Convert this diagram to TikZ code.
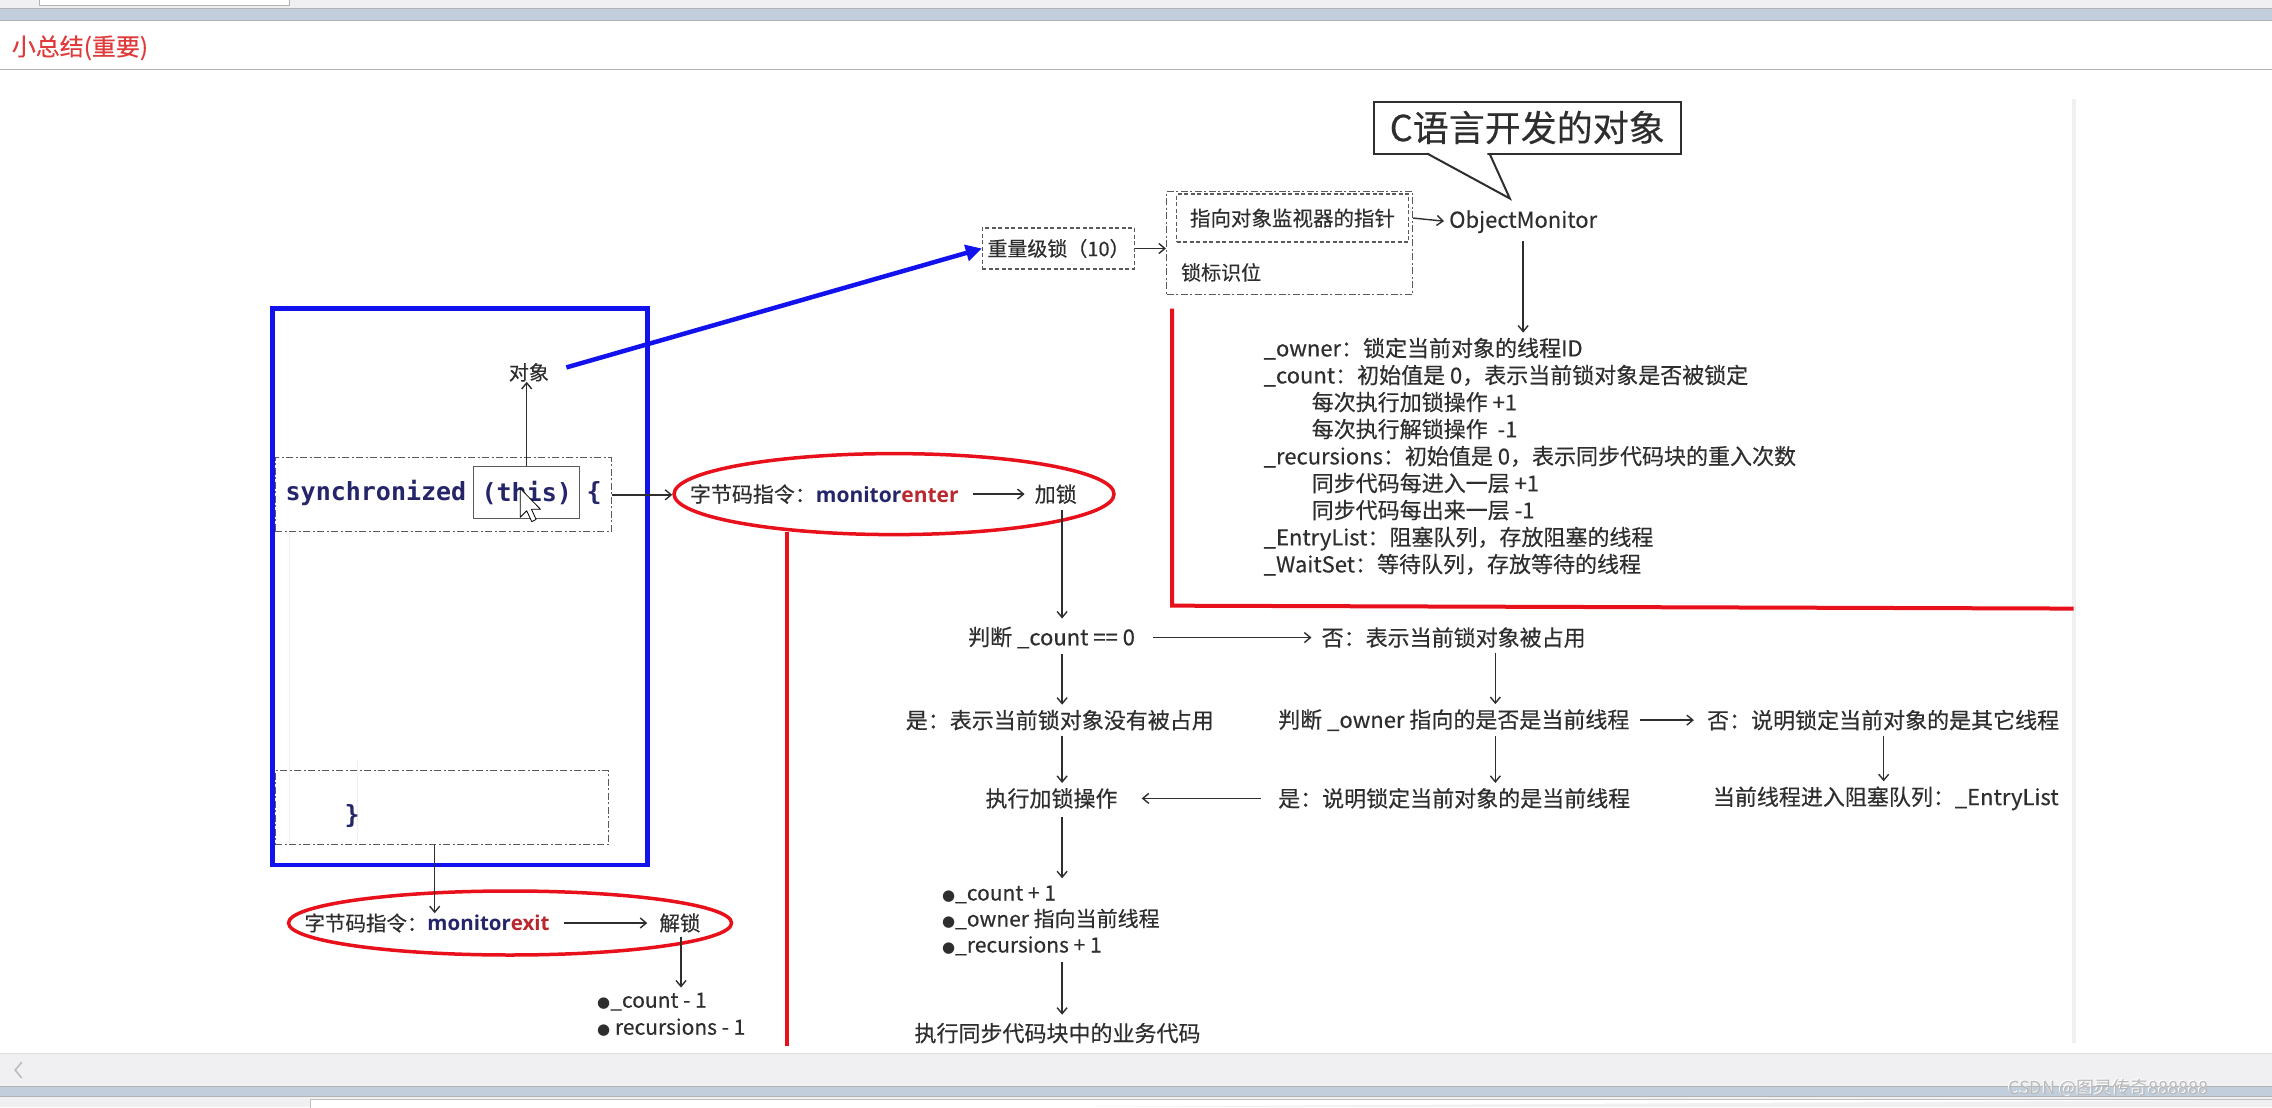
\documentclass[tikz,border=0pt]{standalone}
\usepackage{fontspec}
\setmainfont{Noto Sans CJK SC}[FakeBold=0.35]
\newfontfamily\monof{DejaVu Sans Mono}
\newfontfamily\dejavu{DejaVu Sans}
\newfontfamily\bsans{Open Sans}
\newfontfamily\wmfont{Noto Sans CJK SC}
\usetikzlibrary{arrows.meta,shapes.geometric}
\definecolor{txt}{HTML}{2E2E2E}
\definecolor{redl}{HTML}{E8101A}
\definecolor{bluel}{HTML}{1212EE}
\definecolor{navy}{HTML}{25256A}
\definecolor{dred}{HTML}{B8282E}
\definecolor{uigray}{HTML}{F0F0F2}
\definecolor{uiblue}{HTML}{C2CEDC}
\definecolor{dashg}{HTML}{5A5A5A}
\definecolor{titlered}{HTML}{E03A3A}
\begin{document}
\begin{tikzpicture}[x=1.449pt,y=-1.449pt,
  lbl/.style={inner sep=0pt, text=txt, font=\fontsize{22}{27}\selectfont},
  arr/.style={draw=txt, line width=1.4pt, -{Straight Barb[length=6pt,width=10pt]}},
  dbox/.style={draw=dashg, line width=1.3pt, dash pattern=on 4pt off 2.5pt, inner sep=0pt, text=txt},
  ddbox/.style={draw=dashg, line width=1.3pt, dash pattern=on 7pt off 2.5pt on 2pt off 2.5pt, inner sep=0pt},
  codetxt/.style={inner sep=0pt, text=navy, font=\monof\bfseries\fontsize{25}{25}\selectfont},
  redline/.style={draw=redl, line width=4pt},
  redell/.style={ellipse, draw=redl, line width=3.5pt, inner sep=0pt}]
\useasboundingbox (0,0) rectangle (1568,764);
\fill[white] (0,0) rectangle (1568,764);
% ---- window chrome ----
\fill[uigray] (0,0) rectangle (1568,6);
\draw[gray!60, fill=white, line width=0.8pt] (27,-3) rectangle (200,4);
\fill[uiblue] (0,6) rectangle (1568,14);
\draw[gray!60, line width=1pt] (0,6) -- (1568,6) (0,14) -- (1568,14);
\node[inner sep=0pt, anchor=west, text=titlered, font=\fontsize{24}{24}\selectfont] (title) at (8,33) {小总结(重要)};
\draw[gray!60, line width=1.6pt] (0,48) -- (1568,48);
\draw[gray!12, line width=4pt] (1431,68) -- (1431,720);
\fill[uigray] (0,727) rectangle (1568,750);
\draw[gray!25, line width=0.8pt] (0,727) -- (1568,727);
\draw[gray!55, line width=1.5pt] (15,733) -- (10.5,738.5) -- (15,744);
\fill[uiblue] (0,750) rectangle (1568,757);
\draw[gray!60, line width=1pt] (0,750) -- (1568,750) (0,757) -- (1568,757);
\fill[uigray] (0,757) rectangle (1568,764);
\draw[gray!50, fill=white, line width=0.8pt] (214,767) -- (214,759) -- (1570,759);
\node[inner sep=0pt, text=white, font=\wmfont\fontsize{18}{18}\selectfont] (wmshadow) at (1454.4,750.4) {CSDN @图灵传奇888888};
\node[inner sep=0pt, text=gray!55, font=\wmfont\fontsize{18}{18}\selectfont] (wm) at (1455,751) {CSDN @图灵传奇888888};
% ---- callout ----
\node[draw=txt, line width=2pt, minimum width=307pt, minimum height=52pt, inner sep=0pt, text=txt, font=\fontsize{36}{36}\selectfont] (callout) at (1054,88) {C语言开发的对象};
\coordinate (tailL) at (985,106);
\coordinate (tailR) at (1028,106);
\coordinate (tip) at (1042,137);
\fill[white] (986.5,108) -- (tip) -- (1026.5,108) -- (1026.5,104) -- (986.5,104) -- cycle;
\draw[txt, line width=2pt, line join=miter] (tailL) -- (tip) -- (tailR);
% ---- header boxes ----
\node[dbox, minimum width=152pt, minimum height=41pt, font=\fontsize{20}{20}\selectfont] (heavy) at (730.5,171.5) {重量级锁（10）};
\node[ddbox, minimum width=246pt, minimum height=103pt] (outer) at (890,167.5) {};
\node[dbox, minimum width=232pt, minimum height=48pt, font=\fontsize{20.5}{20}\selectfont] (ptr) at (892,150.5) {指向对象监视器的指针};
\node[lbl, anchor=west, font=\fontsize{20}{20}\selectfont] (flag) at (815,188) {锁标识位};
\node[lbl, anchor=west] (om) at (1000,153) {ObjectMonitor};
\draw[arr] (heavy.east) -- (heavy.east -| outer.west);
\draw[arr, shorten >=5pt] (ptr.east -| outer.east) -- (om.west);
\node[lbl, anchor=north west, align=left] (fields) at (872,233) {%
\_owner：锁定当前对象的线程ID\\
\_count：初始值是 0，表示当前锁对象是否被锁定\\
\hspace*{48pt}每次执行加锁操作 +1\\
\hspace*{48pt}每次执行解锁操作\ \ -1\\
\_recursions：初始值是 0，表示同步代码块的重入次数\\
\hspace*{48pt}同步代码每进入一层 +1\\
\hspace*{48pt}同步代码每出来一层 -1\\
\_EntryList：阻塞队列，存放阻塞的线程\\
\_WaitSet：等待队列，存放等待的线程};
\draw[arr, shorten <=8pt, shorten >=5pt] (om.south) -- (om.south |- fields.north);
\draw[redline] (809,213) -- (809,418) -- (1431,420);
% ---- code block ----
\draw[bluel, line width=4.5pt] (188,213) rectangle (447,597);
\draw[gray!12, line width=1pt] (200,368) -- (200,582);
\draw[gray!12, line width=1pt] (247,525) -- (247,582);
\node[lbl, font=\fontsize{20}{20}\selectfont] (obj) at (365,257) {对象};
\node[ddbox, minimum width=336pt, minimum height=74pt] (syncbox) at (306,341.5) {};
\node[codetxt, anchor=west] (syn) at (197,340) {synchronized};
\node[codetxt, draw=dashg, line width=1.5pt, solid, minimum width=106pt, minimum height=52pt] (this) at (363.5,340) {(this)};
\node[codetxt] (brace) at (410,340) {\{};
\draw[arr] (this.north) -- (this.north |- obj.south);
\draw[black, fill=white, line width=0.8pt, line join=round] (359,337) -- (359,357) -- (363.5,352.5) -- (367,360) -- (370,358.5) -- (366.8,351.5) -- (373,351.5) -- cycle;
\node[ddbox, minimum width=333pt, minimum height=74pt] (endbox) at (305,557.5) {};
\node[codetxt] (cbrace) at (243,563) {\}};
\draw[bluel, line width=4.5pt, -{Triangle[length=16pt,width=16pt]}, shorten <=18pt] (obj.east) -- (heavy.west);
% ---- monitorenter ----
\node[redell, minimum width=440pt, minimum height=81pt] (ell1) at (617,341) {};
\node[lbl, anchor=west, font=\fontsize{21}{21}\selectfont] (e1a) at (476,341) {字节码指令：{\bsans\bfseries\color{navy}monitor}{\bsans\bfseries\color{dred}enter}};
\node[lbl, anchor=west, font=\fontsize{21}{21}\selectfont] (e1b) at (714,341) {加锁};
\draw[arr, shorten <=14pt, shorten >=10pt] (e1a.east) -- (e1b.west);
\draw[arr] (syncbox.east) -- (syncbox.east -| ell1.west);
\draw[redline] (543,367) -- (543,722);
% ---- flow ----
\coordinate (c733) at (733,0);
\coordinate (c1032) at (1032,0);
\coordinate (c1300) at (1300,0);
\node[lbl, anchor=west] (n1) at (668,440) {判断 \_count == 0};
\node[lbl, anchor=west] (n2) at (912,440) {否：表示当前锁对象被占用};
\node[lbl, anchor=west] (n3) at (625,497) {是：表示当前锁对象没有被占用};
\node[lbl, anchor=west] (n4) at (882,497) {判断 \_owner 指向的是否是当前线程};
\node[lbl, anchor=west] (n5) at (1178,497) {否：说明锁定当前对象的是其它线程};
\node[lbl, anchor=west] (n6) at (680,551) {执行加锁操作};
\node[lbl, anchor=west] (n7) at (882,551) {是：说明锁定当前对象的是当前线程};
\node[lbl, anchor=west] (n8) at (1182,551) {当前线程进入阻塞队列：\_EntryList};
\node[lbl, anchor=north west, align=left, font=\fontsize{21}{26}\selectfont] (n9) at (650,611) {{\dejavu\fontsize{15}{15}\selectfont ●}\_count + 1\\{\dejavu\fontsize{15}{15}\selectfont ●}\_owner 指向当前线程\\{\dejavu\fontsize{15}{15}\selectfont ●}\_recursions + 1};
\node[lbl, anchor=west] (n10) at (631,713) {执行同步代码块中的业务代码};
\draw[arr, shorten <=6pt, shorten >=8pt] (c733 |- e1b.south) -- (c733 |- n1.north);
\draw[arr, shorten <=18pt, shorten >=10pt] (n1.east) -- (n2.west);
\draw[arr, shorten <=5pt, shorten >=5pt] (c733 |- n1.south) -- (c733 |- n3.north);
\draw[arr, shorten <=5pt, shorten >=5pt] (c1032 |- n2.south) -- (c1032 |- n4.north);
\draw[arr, shorten <=10pt, shorten >=13pt] (n4.east) -- (n5.west);
\draw[arr, shorten <=5pt, shorten >=5pt] (c733 |- n3.south) -- (c733 |- n6.north);
\draw[arr, shorten <=5pt, shorten >=5pt] (c1032 |- n4.south) -- (c1032 |- n7.north);
\draw[arr, shorten <=5pt, shorten >=5pt] (c1300 |- n5.south) -- (c1300 |- n8.north);
\draw[arr, shorten <=17pt, shorten >=24pt] (n7.west) -- (n6.east);
\draw[arr, shorten <=8pt, shorten >=7pt] (c733 |- n6.south) -- (c733 |- n9.north);
\draw[arr, shorten <=6pt, shorten >=8pt] (c733 |- n9.south) -- (c733 |- n10.north);
% ---- monitorexit ----
\node[redell, minimum width=443pt, minimum height=64pt] (ell2) at (352,637) {};
\node[lbl, anchor=west, font=\fontsize{20.5}{21}\selectfont] (e2a) at (210,637) {字节码指令：{\bsans\bfseries\color{navy}monitor}{\bsans\bfseries\color{dred}exit}};
\node[lbl, anchor=west, font=\fontsize{20.5}{21}\selectfont] (e2b) at (455,637) {解锁};
\draw[arr, shorten <=14pt, shorten >=12pt] (e2a.east) -- (e2b.west);
\coordinate (c300) at (300,0);
\coordinate (c470) at (470,0);
\draw[arr] (c300 |- endbox.south) -- (c300 |- e2a.north);
\node[lbl, anchor=north west, align=left, font=\fontsize{21}{27}\selectfont] (n11) at (412,685) {{\dejavu\fontsize{15}{15}\selectfont ●}\_count - 1\\{\dejavu\fontsize{15}{15}\selectfont ●} recursions - 1};
\draw[arr, shorten <=4pt, shorten >=5pt] (c470 |- e2b.south) -- (c470 |- n11.north);
\end{tikzpicture}
\end{document}
